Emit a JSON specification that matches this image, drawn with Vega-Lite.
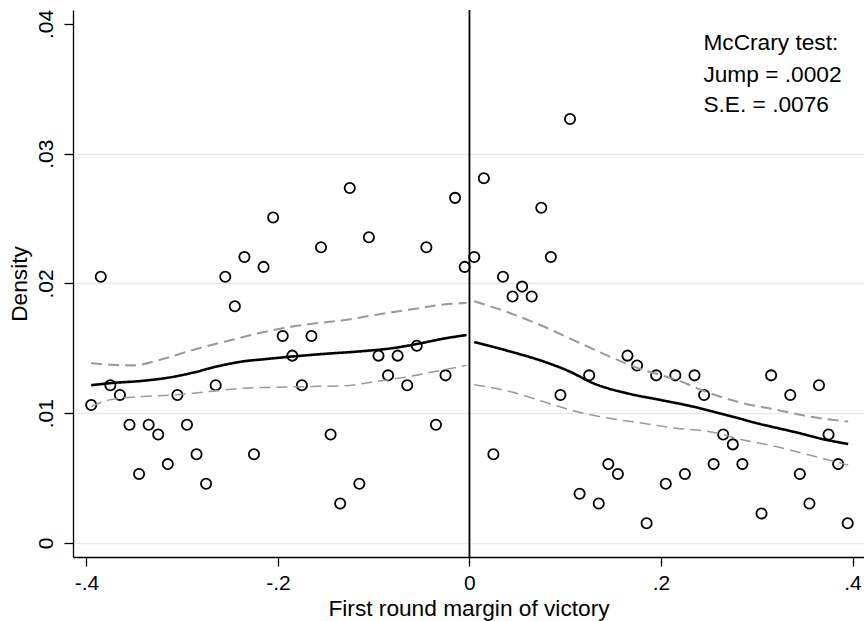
{
  "$schema": "https://vega.github.io/schema/vega-lite/v6.json",
  "width": 791,
  "height": 547,
  "autosize": {"type": "none"},
  "padding": {"left": 73, "top": 10, "right": 0, "bottom": 64},
  "background": "white",
  "config": {
    "view": {"stroke": null},
    "font": "Liberation Sans",
    "axis": {
      "domainColor": "black",
      "domainWidth": 1.3,
      "tickColor": "black",
      "tickWidth": 1.3,
      "tickSize": 9,
      "labelColor": "black",
      "labelFontSize": 21,
      "titleColor": "black",
      "titleFontSize": 22.7,
      "titleFontWeight": "normal"
    }
  },
  "datasets": {
    "bins": [
      {"x": -0.395, "y": 0.01064}, {"x": -0.385, "y": 0.02052}, {"x": -0.375, "y": 0.01216}, {"x": -0.365, "y": 0.0114},
      {"x": -0.355, "y": 0.00912}, {"x": -0.345, "y": 0.00532}, {"x": -0.335, "y": 0.00912}, {"x": -0.325, "y": 0.00836},
      {"x": -0.315, "y": 0.00608}, {"x": -0.305, "y": 0.0114}, {"x": -0.295, "y": 0.00912}, {"x": -0.285, "y": 0.00684},
      {"x": -0.275, "y": 0.00456}, {"x": -0.265, "y": 0.01216}, {"x": -0.255, "y": 0.02052}, {"x": -0.245, "y": 0.01824},
      {"x": -0.235, "y": 0.02204}, {"x": -0.225, "y": 0.00684}, {"x": -0.215, "y": 0.02128}, {"x": -0.205, "y": 0.02508},
      {"x": -0.195, "y": 0.01596}, {"x": -0.185, "y": 0.01444}, {"x": -0.175, "y": 0.01216}, {"x": -0.165, "y": 0.01596},
      {"x": -0.155, "y": 0.0228}, {"x": -0.145, "y": 0.00836}, {"x": -0.135, "y": 0.00304}, {"x": -0.125, "y": 0.02736},
      {"x": -0.115, "y": 0.00456}, {"x": -0.105, "y": 0.02356}, {"x": -0.095, "y": 0.01444}, {"x": -0.085, "y": 0.01292},
      {"x": -0.075, "y": 0.01444}, {"x": -0.065, "y": 0.01216}, {"x": -0.055, "y": 0.0152}, {"x": -0.045, "y": 0.0228},
      {"x": -0.035, "y": 0.00912}, {"x": -0.025, "y": 0.01292}, {"x": -0.015, "y": 0.0266}, {"x": -0.005, "y": 0.02128},
      {"x": 0.005, "y": 0.02204}, {"x": 0.015, "y": 0.02812}, {"x": 0.025, "y": 0.00684}, {"x": 0.035, "y": 0.02052},
      {"x": 0.045, "y": 0.019}, {"x": 0.055, "y": 0.01976}, {"x": 0.065, "y": 0.019}, {"x": 0.075, "y": 0.02584},
      {"x": 0.085, "y": 0.02204}, {"x": 0.095, "y": 0.0114}, {"x": 0.105, "y": 0.03268}, {"x": 0.115, "y": 0.0038},
      {"x": 0.125, "y": 0.01292}, {"x": 0.135, "y": 0.00304}, {"x": 0.145, "y": 0.00608}, {"x": 0.155, "y": 0.00532},
      {"x": 0.165, "y": 0.01444}, {"x": 0.175, "y": 0.01368}, {"x": 0.185, "y": 0.00152}, {"x": 0.195, "y": 0.01292},
      {"x": 0.205, "y": 0.00456}, {"x": 0.215, "y": 0.01292}, {"x": 0.225, "y": 0.00532}, {"x": 0.235, "y": 0.01292},
      {"x": 0.245, "y": 0.0114}, {"x": 0.255, "y": 0.00608}, {"x": 0.265, "y": 0.00836}, {"x": 0.275, "y": 0.0076},
      {"x": 0.285, "y": 0.00608}, {"x": 0.305, "y": 0.00228}, {"x": 0.315, "y": 0.01292}, {"x": 0.335, "y": 0.0114},
      {"x": 0.345, "y": 0.00532}, {"x": 0.355, "y": 0.00304}, {"x": 0.365, "y": 0.01216}, {"x": 0.375, "y": 0.00836},
      {"x": 0.385, "y": 0.00608}, {"x": 0.395, "y": 0.00152}
    ],
    "curves": [
      {"side": "L", "curve": "fit", "x": -0.395, "y": 0.01216}, {"side": "L", "curve": "fit", "x": -0.375, "y": 0.01232},
      {"side": "L", "curve": "fit", "x": -0.341, "y": 0.0125}, {"side": "L", "curve": "fit", "x": -0.313, "y": 0.01276},
      {"side": "L", "curve": "fit", "x": -0.288, "y": 0.01314}, {"side": "L", "curve": "fit", "x": -0.264, "y": 0.0136},
      {"side": "L", "curve": "fit", "x": -0.236, "y": 0.014}, {"side": "L", "curve": "fit", "x": -0.212, "y": 0.01418},
      {"side": "L", "curve": "fit", "x": -0.184, "y": 0.01438}, {"side": "L", "curve": "fit", "x": -0.149, "y": 0.01459},
      {"side": "L", "curve": "fit", "x": -0.114, "y": 0.01477}, {"side": "L", "curve": "fit", "x": -0.079, "y": 0.01503},
      {"side": "L", "curve": "fit", "x": -0.054, "y": 0.01535}, {"side": "L", "curve": "fit", "x": -0.027, "y": 0.01575},
      {"side": "L", "curve": "fit", "x": -0.003, "y": 0.01603},
      {"side": "L", "curve": "hi", "x": -0.395, "y": 0.01387}, {"side": "L", "curve": "hi", "x": -0.376, "y": 0.01374},
      {"side": "L", "curve": "hi", "x": -0.351, "y": 0.01369}, {"side": "L", "curve": "hi", "x": -0.323, "y": 0.01412},
      {"side": "L", "curve": "hi", "x": -0.288, "y": 0.0149}, {"side": "L", "curve": "hi", "x": -0.254, "y": 0.01554},
      {"side": "L", "curve": "hi", "x": -0.219, "y": 0.01619}, {"side": "L", "curve": "hi", "x": -0.194, "y": 0.01657},
      {"side": "L", "curve": "hi", "x": -0.163, "y": 0.01691}, {"side": "L", "curve": "hi", "x": -0.132, "y": 0.01716},
      {"side": "L", "curve": "hi", "x": -0.097, "y": 0.0176}, {"side": "L", "curve": "hi", "x": -0.062, "y": 0.01799},
      {"side": "L", "curve": "hi", "x": -0.027, "y": 0.01838}, {"side": "L", "curve": "hi", "x": -0.003, "y": 0.0185},
      {"side": "L", "curve": "lo", "x": -0.395, "y": 0.01052}, {"side": "L", "curve": "lo", "x": -0.376, "y": 0.01103},
      {"side": "L", "curve": "lo", "x": -0.341, "y": 0.01129}, {"side": "L", "curve": "lo", "x": -0.306, "y": 0.01142},
      {"side": "L", "curve": "lo", "x": -0.271, "y": 0.01168}, {"side": "L", "curve": "lo", "x": -0.236, "y": 0.01193},
      {"side": "L", "curve": "lo", "x": -0.201, "y": 0.01201}, {"side": "L", "curve": "lo", "x": -0.166, "y": 0.01206},
      {"side": "L", "curve": "lo", "x": -0.132, "y": 0.01211}, {"side": "L", "curve": "lo", "x": -0.097, "y": 0.01245},
      {"side": "L", "curve": "lo", "x": -0.062, "y": 0.01284}, {"side": "L", "curve": "lo", "x": -0.027, "y": 0.01335},
      {"side": "L", "curve": "lo", "x": -0.003, "y": 0.01369},
      {"side": "R", "curve": "fit", "x": 0.005, "y": 0.01549}, {"side": "R", "curve": "fit", "x": 0.042, "y": 0.01477},
      {"side": "R", "curve": "fit", "x": 0.077, "y": 0.014}, {"side": "R", "curve": "fit", "x": 0.1045, "y": 0.01322},
      {"side": "R", "curve": "fit", "x": 0.129, "y": 0.01232}, {"side": "R", "curve": "fit", "x": 0.164, "y": 0.01155},
      {"side": "R", "curve": "fit", "x": 0.199, "y": 0.01103}, {"side": "R", "curve": "fit", "x": 0.233, "y": 0.01052},
      {"side": "R", "curve": "fit", "x": 0.268, "y": 0.00987}, {"side": "R", "curve": "fit", "x": 0.303, "y": 0.00918},
      {"side": "R", "curve": "fit", "x": 0.338, "y": 0.00858}, {"side": "R", "curve": "fit", "x": 0.373, "y": 0.00794},
      {"side": "R", "curve": "fit", "x": 0.3955, "y": 0.00763},
      {"side": "R", "curve": "hi", "x": 0.005, "y": 0.01863}, {"side": "R", "curve": "hi", "x": 0.042, "y": 0.01773},
      {"side": "R", "curve": "hi", "x": 0.077, "y": 0.0167}, {"side": "R", "curve": "hi", "x": 0.1115, "y": 0.01554},
      {"side": "R", "curve": "hi", "x": 0.146, "y": 0.01438}, {"side": "R", "curve": "hi", "x": 0.181, "y": 0.01335},
      {"side": "R", "curve": "hi", "x": 0.216, "y": 0.01258}, {"side": "R", "curve": "hi", "x": 0.251, "y": 0.01155},
      {"side": "R", "curve": "hi", "x": 0.286, "y": 0.01077}, {"side": "R", "curve": "hi", "x": 0.321, "y": 0.01026},
      {"side": "R", "curve": "hi", "x": 0.355, "y": 0.00974}, {"side": "R", "curve": "hi", "x": 0.3955, "y": 0.00936},
      {"side": "R", "curve": "lo", "x": 0.005, "y": 0.01219}, {"side": "R", "curve": "lo", "x": 0.042, "y": 0.01168},
      {"side": "R", "curve": "lo", "x": 0.077, "y": 0.0109}, {"side": "R", "curve": "lo", "x": 0.1115, "y": 0.01013},
      {"side": "R", "curve": "lo", "x": 0.146, "y": 0.00961}, {"side": "R", "curve": "lo", "x": 0.181, "y": 0.00923},
      {"side": "R", "curve": "lo", "x": 0.216, "y": 0.00884}, {"side": "R", "curve": "lo", "x": 0.251, "y": 0.00858},
      {"side": "R", "curve": "lo", "x": 0.286, "y": 0.00794}, {"side": "R", "curve": "lo", "x": 0.321, "y": 0.00742},
      {"side": "R", "curve": "lo", "x": 0.355, "y": 0.00678}, {"side": "R", "curve": "lo", "x": 0.3955, "y": 0.006}
    ],
    "notes": [
      {"x": 0.2443, "y": 0.03797, "label": "McCrary test:"},
      {"x": 0.2443, "y": 0.03554, "label": "Jump = .0002"},
      {"x": 0.2443, "y": 0.03323, "label": "S.E. = .0076"}
    ],
    "cutoff": [{"x": 0}]
  },
  "encoding": {
    "x": {
      "field": "x", "type": "quantitative",
      "scale": {"domain": [-0.414, 0.412], "nice": false, "zero": false},
      "axis": {
        "values": [-0.4, -0.2, 0, 0.2, 0.4],
        "labelExpr": "datum.value == 0 ? '0' : (datum.value < 0 ? '-' + slice(format(-datum.value, '.1f'), 1) : slice(format(datum.value, '.1f'), 1))",
        "grid": false,
        "labelPadding": 6,
        "title": "First round margin of victory",
        "titlePadding": 4
      }
    }
  },
  "layer": [
    {
      "data": {"name": "cutoff"},
      "mark": {"type": "rule", "color": "black", "strokeWidth": 1.8},
      "encoding": {}
    },
    {
      "data": {"name": "bins"},
      "mark": {"type": "point", "shape": "circle", "filled": false, "color": "black", "strokeWidth": 1.8, "size": 105, "opacity": 1},
      "encoding": {
        "y": {
          "field": "y", "type": "quantitative",
          "scale": {"domain": [-0.00108, 0.04108], "nice": false, "zero": false},
          "axis": {
            "values": [0, 0.01, 0.02, 0.03, 0.04],
            "labelExpr": "datum.value == 0 ? '0' : slice(format(datum.value, '.2f'), 1)",
            "labelAngle": -90,
            "labelAlign": "center",
            "labelBaseline": "bottom",
            "labelPadding": 8,
            "grid": true,
            "gridColor": {"condition": {"test": "datum.value > 0.035", "value": "transparent"}, "value": "#e3edef"},
            "gridWidth": 1.5,
            "title": "Density",
            "titlePadding": 4
          }
        }
      }
    },
    {
      "data": {"name": "curves"},
      "mark": {"type": "line", "interpolate": "monotone"},
      "encoding": {
        "y": {"field": "y", "type": "quantitative"},
        "detail": {"field": "side"},
        "color": {"field": "curve", "type": "nominal", "scale": {"domain": ["fit", "hi", "lo"], "range": ["black", "#9a9a9a", "#9a9a9a"]}, "legend": null},
        "strokeDash": {"field": "curve", "type": "nominal", "scale": {"domain": ["fit", "hi", "lo"], "range": [[1, 0], [11, 6], [11, 6]]}, "legend": null},
        "strokeWidth": {"field": "curve", "type": "nominal", "scale": {"domain": ["fit", "hi", "lo"], "range": [2.6, 1.5, 1.5]}, "legend": null}
      }
    },
    {
      "data": {"name": "notes"},
      "mark": {"type": "text", "align": "left", "baseline": "alphabetic", "fontSize": 22.7, "color": "black"},
      "encoding": {
        "y": {"field": "y", "type": "quantitative"},
        "text": {"field": "label"}
      }
    }
  ]
}
